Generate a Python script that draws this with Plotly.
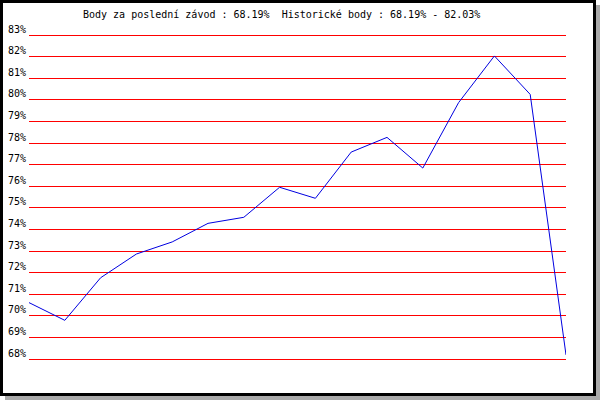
import plotly.graph_objects as go

race_index = list(range(16))
points_pct = [70.61, 69.79, 71.76, 72.86, 73.42, 74.28, 74.56, 75.95, 75.44,
              77.58, 78.26, 76.84, 79.87, 82.03, 80.25, 68.19]
y_tick_vals = list(range(68, 84))
y_tick_text = [f"{v}%" for v in y_tick_vals]
title_text = "Body za poslední závod : 68.19%  Historické body : 68.19% - 82.03%"

W, H = 600, 400
L, R, T, B = 29, 34, 31, 37
pw, ph = W - L - R, H - T - B


def px_x(px):
    return (px - L) / pw


def px_y(py):
    return (H - B - py) / ph


fig = go.Figure()
fig.add_trace(go.Scatter(x=race_index, y=points_pct, mode="lines",
                         line=dict(color="#0000e0", width=1), hoverinfo="skip"))

pad = 4 / 21.6

fig.update_layout(
    width=W, height=H,
    margin=dict(l=L, r=R, t=T, b=B, pad=0, autoexpand=False),
    paper_bgcolor="white",
    plot_bgcolor="rgba(0,0,0,0)",
    showlegend=False,
    font=dict(family="DejaVu Sans Mono", size=10, color="black"),
    xaxis=dict(range=[0, 15], visible=False, showgrid=False, zeroline=False,
               automargin=False),
    yaxis=dict(range=[68 - pad, 83 + pad], tickvals=y_tick_vals, ticktext=y_tick_text,
               showgrid=True, gridcolor="red", gridwidth=1, zeroline=False,
               showline=False, ticks="", ticklabelshift=-6, ticklabelstandoff=2,
               automargin=False,
               tickfont=dict(family="DejaVu Sans Mono", size=10, color="black")),
    shapes=[
        dict(type="rect", xref="paper", yref="paper", layer="below",
             x0=px_x(5), x1=px_x(600), y0=px_y(400), y1=px_y(5),
             fillcolor="#aaaaaa", line=dict(width=0)),
        dict(type="rect", xref="paper", yref="paper", layer="below",
             x0=px_x(1.5), x1=px_x(594.5), y0=px_y(394.5), y1=px_y(1.5),
             fillcolor="white", line=dict(color="black", width=3)),
    ],
    annotations=[
        dict(text=title_text, xref="paper", yref="paper", x=px_x(281), y=px_y(14),
             xanchor="center", yanchor="middle", showarrow=False,
             font=dict(family="DejaVu Sans Mono", size=10, color="black")),
    ],
)

fig.write_html("out.html", config={"displayModeBar": False},
               post_script="document.body.style.margin='0';document.body.style.overflow='hidden';")
